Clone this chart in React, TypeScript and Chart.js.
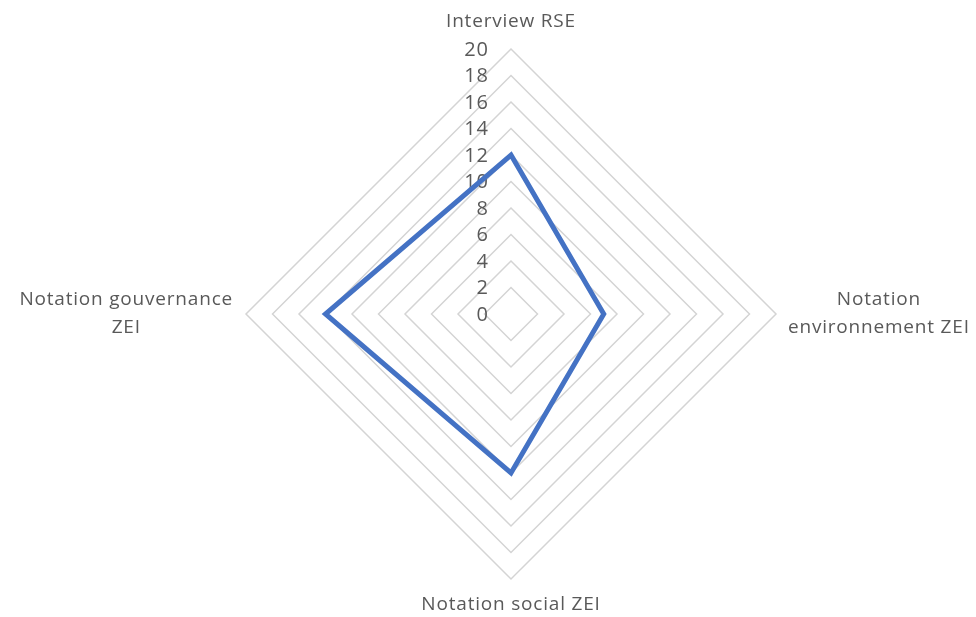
import React, { useEffect, useRef } from "react";
import { Chart, registerables } from "chart.js";

Chart.register(...registerables);

const categories: string[][] = [
  ["Interview RSE"],
  ["Notation", "environnement ZEI"],
  ["Notation social ZEI"],
  ["Notation gouvernance", "ZEI"],
];
const seriesValues: number[] = [12, 7, 12, 14];
const tickValues: number[] = [0, 2, 4, 6, 8, 10, 12, 14, 16, 18, 20];

const FONT = "'Open Sans', sans-serif";
const TEXT = "#595959";

const labelPlugin = {
  id: "excelLabels",
  beforeDatasetsDraw(chart: any) {
    const scale = chart.scales.r;
    const ctx = chart.ctx;
    ctx.save();
    // tick labels
    ctx.font = `20px ${FONT}`;
    (ctx as any).letterSpacing = "1px";
    ctx.fillStyle = TEXT;
    ctx.textAlign = "right";
    ctx.textBaseline = "middle";
    for (const v of tickValues) {
      const d = scale.getDistanceFromCenterForValue(v);
      ctx.fillText(String(v), scale.xCenter - 22, scale.yCenter - d + 1);
    }
    // point labels
    ctx.font = `19px ${FONT}`;
    (ctx as any).letterSpacing = "0.8px";
    const lineH = 28;
    const offsets = [27, 12, 26, 13];
    categories.forEach((lines, i) => {
      const p = scale.getPointPosition(i, scale.drawingArea + offsets[i]);
      const w = Math.max(...lines.map((l) => ctx.measureText(l).width));
      let cx = p.x;
      if (i === 1) cx = p.x + w / 2;
      if (i === 3) cx = p.x - w / 2;
      const total = (lines.length - 1) * lineH;
      ctx.textAlign = "center";
      ctx.textBaseline = "middle";
      lines.forEach((l, k) => {
        ctx.fillText(l, cx, p.y - total / 2 + k * lineH);
      });
    });
    ctx.restore();
  },
};

export default function App() {
  const ref = useRef<HTMLCanvasElement | null>(null);
  useEffect(() => {
    if (!ref.current) return;
    const chart = new Chart(ref.current, {
      type: "radar",
      data: {
        labels: categories.map((c) => c.join(" ")),
        datasets: [
          {
            data: seriesValues,
            borderColor: "#4472C4",
            backgroundColor: "rgba(0,0,0,0)",
            borderWidth: 5,
            pointRadius: 0,
            fill: false,
            tension: 0,
            borderJoinStyle: "miter",
          } as any,
        ],
      },
      options: {
        responsive: false,
        animation: false,
        layout: { padding: { left: 246, right: 200, top: 49, bottom: 38 } },
        plugins: { legend: { display: false }, tooltip: { enabled: false } },
        scales: {
          r: {
            min: 0,
            max: 20,
            ticks: { stepSize: 2, display: false },
            grid: { color: "#D4D4D4", lineWidth: 1.5 },
            angleLines: { display: false },
            pointLabels: { display: false },
          },
        },
      },
      plugins: [labelPlugin],
    });
    return () => chart.destroy();
  }, []);
  return (
    <div style={{ position: "fixed", left: 0, top: 0, width: 976, height: 617, background: "#fff" }}>
      <canvas ref={ref} width={976} height={617} />
    </div>
  );
}
